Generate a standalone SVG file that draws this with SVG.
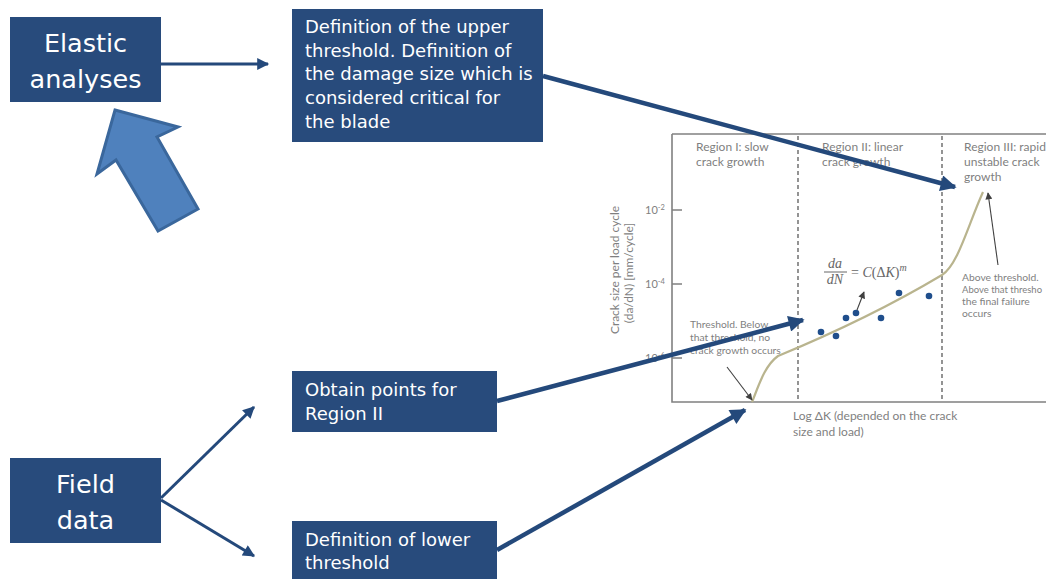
<svg xmlns="http://www.w3.org/2000/svg" width="1046" height="579" viewBox="0 0 1046 579">
  <defs>
    <style>
      .box { fill: #284b7c; }
      .big { font-family: "DejaVu Sans", Verdana, sans-serif; font-size: 25.5px; fill: #ffffff; text-anchor: middle; }
      .lbl { font-family: "DejaVu Sans", Verdana, sans-serif; font-size: 18px; fill: #ffffff; }
      .conn { stroke: #24497b; fill: none; }
      .thin { stroke-width: 3; }
      .thick { stroke-width: 4.5; }
      .axis { stroke: #808080; stroke-width: 1.6; fill: none; }
      .divider { stroke: #4d4d4d; stroke-width: 1.2; stroke-dasharray: 4 3; fill: none; }
      .ctext { font-family: Lato, "Open Sans", sans-serif; font-size: 12px; fill: #7f7f7f; }
      .tick { font-family: Lato, "Open Sans", sans-serif; font-size: 11px; fill: #7f7f7f; }
      .note { font-family: Lato, "Open Sans", sans-serif; font-size: 10.3px; fill: #7f7f7f; }
      .math { font-family: "Liberation Serif", serif; font-size: 14px; fill: #666666; font-style: italic; }
      .pointer { stroke: #404040; stroke-width: 1.1; fill: none; }
      .dot { fill: #1f4e8c; }
    </style>
    <marker id="headThin" viewBox="0 0 10 10" refX="9" refY="5" markerWidth="14" markerHeight="12" markerUnits="userSpaceOnUse" orient="auto">
      <path d="M0,0 L10,5 L0,10 Z" fill="#24497b"/>
    </marker>
    <marker id="headThick" viewBox="0 0 10 10" refX="9" refY="5" markerWidth="18" markerHeight="16" markerUnits="userSpaceOnUse" orient="auto">
      <path d="M0,0 L10,5 L0,10 Z" fill="#24497b"/>
    </marker>
    <marker id="headSmall" viewBox="0 0 10 10" refX="9" refY="5" markerWidth="8" markerHeight="7" markerUnits="userSpaceOnUse" orient="auto">
      <path d="M0,0 L10,5 L0,10 Z" fill="#404040"/>
    </marker>
  </defs>

  <rect width="1046" height="579" fill="#ffffff"/>

  <!-- Crack growth chart -->
  <g id="chart">
    <path class="axis" d="M672,134 H1046"/>
    <path class="axis" d="M672,134 V402 H1046"/>
    <path class="axis" d="M672,210 H682 M672,284 H682 M672,358 H682"/>
    <path class="divider" d="M798,136 V402 M942,136 V402"/>

    <text class="tick" x="645" y="214">10<tspan font-size="7.5" dy="-4">-2</tspan></text>
    <text class="tick" x="645" y="288">10<tspan font-size="7.5" dy="-4">-4</tspan></text>
    <text class="tick" x="645" y="362">10<tspan font-size="7.5" dy="-4">-6</tspan></text>

    <text class="ctext" text-anchor="middle" transform="translate(619,270) rotate(-90)">Crack size per load cycle</text>
    <text class="ctext" text-anchor="middle" transform="translate(633,273) rotate(-90)">(da/dN) [mm/cycle]</text>

    <text class="ctext" x="696" y="151">Region I: slow</text>
    <text class="ctext" x="696" y="166">crack growth</text>
    <text class="ctext" x="822" y="151">Region II: linear</text>
    <text class="ctext" x="822" y="166">crack growth</text>
    <text class="ctext" x="964" y="151">Region III: rapid</text>
    <text class="ctext" x="964" y="166">unstable crack</text>
    <text class="ctext" x="964" y="181">growth</text>

    <text class="ctext" x="793" y="420">Log ΔK (depended on the crack</text>
    <text class="ctext" x="793" y="436">size and load)</text>

    <!-- growth curve -->
    <path d="M752,402 C758,388 764,366 778,356 Q870,318 942,275 C958,265 968,225 983,192" fill="none" stroke="#b9b48e" stroke-width="2.2"/>

    <!-- measured points -->
    <circle class="dot" cx="821" cy="332" r="3.3"/>
    <circle class="dot" cx="836" cy="336" r="3.3"/>
    <circle class="dot" cx="846" cy="318" r="3.3"/>
    <circle class="dot" cx="856" cy="313" r="3.3"/>
    <circle class="dot" cx="881" cy="318" r="3.3"/>
    <circle class="dot" cx="899" cy="293" r="3.3"/>
    <circle class="dot" cx="929" cy="296" r="3.3"/>

    <!-- Paris law -->
    <text class="math" x="835" y="268" text-anchor="middle">da</text>
    <path d="M824,272 H847" stroke="#666666" stroke-width="1"/>
    <text class="math" x="835" y="284" text-anchor="middle">dN</text>
    <text class="math" x="851" y="277"><tspan font-style="normal">= </tspan>C<tspan font-style="normal">(Δ</tspan>K<tspan font-style="normal">)</tspan><tspan font-size="10" dy="-6">m</tspan></text>
    <path class="pointer" d="M857,310 L864,292" marker-end="url(#headSmall)"/>

    <!-- annotations -->
    <text class="note" x="690" y="328">Threshold. Below</text>
    <text class="note" x="690" y="341">that threshold, no</text>
    <text class="note" x="690" y="354">crack growth occurs</text>
    <path class="pointer" d="M727,367 L752,400" marker-end="url(#headSmall)"/>

    <text class="note" x="962" y="281">Above threshold.</text>
    <text class="note" x="962" y="293" textLength="80" lengthAdjust="spacingAndGlyphs">Above that thresho</text>
    <text class="note" x="962" y="305">the final failure</text>
    <text class="note" x="962" y="317">occurs</text>
    <path class="pointer" d="M998,265 L988,193" marker-end="url(#headSmall)"/>
  </g>

  <!-- Boxes -->
  <g id="elastic">
    <rect class="box" x="10" y="17" width="151" height="85"/>
    <text class="big" x="85.5" y="52">Elastic</text>
    <text class="big" x="85.5" y="88">analyses</text>
  </g>

  <g id="upper-threshold">
    <rect class="box" x="292" y="9" width="251" height="133"/>
    <text class="lbl" x="305" y="33">Definition of the upper</text>
    <text class="lbl" x="305" y="57">threshold. Definition of</text>
    <text class="lbl" x="305" y="80">the damage size which is</text>
    <text class="lbl" x="305" y="104">considered critical for</text>
    <text class="lbl" x="305" y="128">the blade</text>
  </g>

  <g id="field">
    <rect class="box" x="10" y="458" width="151" height="85"/>
    <text class="big" x="85.5" y="493">Field</text>
    <text class="big" x="85.5" y="529">data</text>
  </g>

  <g id="region-two">
    <rect class="box" x="292" y="371" width="205" height="61"/>
    <text class="lbl" x="305" y="396">Obtain points for</text>
    <text class="lbl" x="305" y="420">Region II</text>
  </g>

  <g id="lower-threshold">
    <rect class="box" x="292" y="521" width="205" height="58"/>
    <text class="lbl" x="305" y="546">Definition of lower</text>
    <text class="lbl" x="305" y="569">threshold</text>
  </g>

  <!-- Block arrow pointing at the elastic analyses -->
  <g id="block-arrow">
    <polygon points="115,110 178,127 157,137 198,209 158,231 116,160 97,174" fill="#4f81bd" stroke="#3a679c" stroke-width="3" stroke-linejoin="miter"/>
  </g>

  <!-- Connectors -->
  <g id="connectors">
    <path class="conn thin" d="M161,64 L268,64" marker-end="url(#headThin)"/>
    <path class="conn thin" d="M161,498 L254,407" marker-end="url(#headThin)"/>
    <path class="conn thin" d="M161,500 L254,556" marker-end="url(#headThin)"/>
    <path class="conn thick" d="M543,76 L955,187" marker-end="url(#headThick)"/>
    <path class="conn thick" d="M497,401 L803,320" marker-end="url(#headThick)"/>
    <path class="conn thick" d="M497,550 L745,410" marker-end="url(#headThick)"/>
  </g>
</svg>
